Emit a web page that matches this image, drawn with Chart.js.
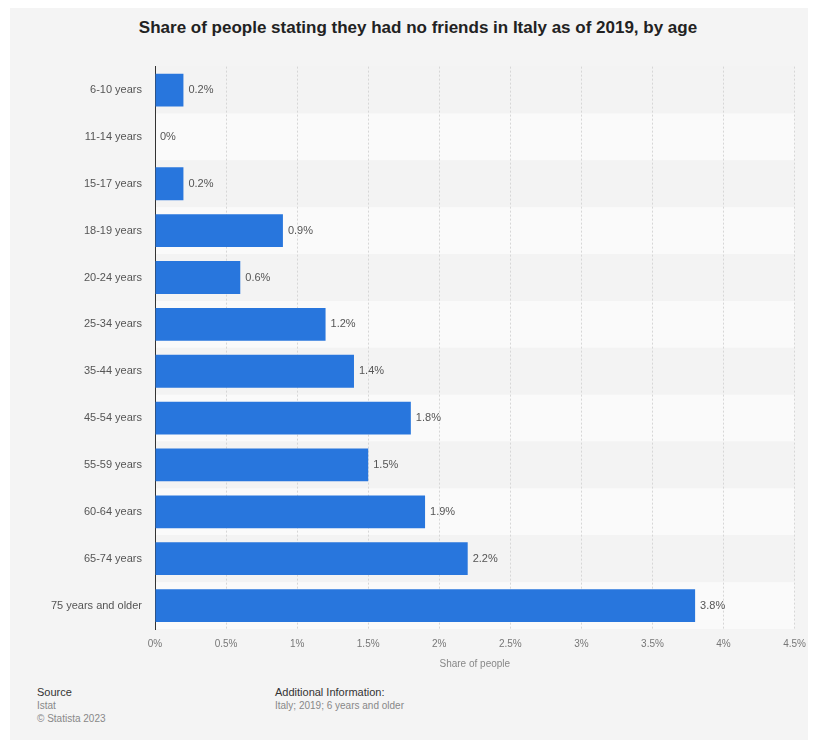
<!DOCTYPE html>
<html>
<head>
<meta charset="utf-8">
<script src="https://cdn.jsdelivr.net/npm/chart.js@4.4.0/dist/chart.umd.min.js"></script>
<style>
  body { margin: 0; background: #fff; font-family: "Liberation Sans", Arial, sans-serif; }
  #card { position: absolute; left: 10px; top: 8px; width: 798px; height: 732px; background: #f4f4f4; }
  #title { position: absolute; left: 9px; top: 10px; width: 798px; text-align: center; font-size: 17px; font-weight: bold; color: #222; }
  #wrap { position: absolute; left: 0; top: 47px; width: 798px; height: 625px; }
  .foot { position: absolute; font-size: 10px; color: #888; line-height: 13px; }
  .foot b { color: #333; font-weight: normal; font-size: 11px; }
</style>
</head>
<body>
<div id="card">
  <div id="title">Share of people stating they had no friends in Italy as of 2019, by age</div>
  <div id="wrap"><canvas id="barChart"></canvas></div>
  <div class="foot" style="left:27px; top:678px;"><b>Source</b><br>Istat<br>© Statista 2023</div>
  <div class="foot" style="left:265px; top:678px;"><b>Additional Information:</b><br>Italy; 2019; 6 years and older</div>
</div>
<script>
// Age groups and share of people (%)
const ageGroups = ['6-10 years', '11-14 years', '15-17 years', '18-19 years', '20-24 years', '25-34 years',
    '35-44 years', '45-54 years', '55-59 years', '60-64 years', '65-74 years', '75 years and older'];
const shareValues = [0.2, 0, 0.2, 0.9, 0.6, 1.2, 1.4, 1.8, 1.5, 1.9, 2.2, 3.8];

// Alternating row background bands
const rowBands = {
    id: 'rowBands',
    beforeDraw(chart) {
        const { ctx, chartArea, scales } = chart;
        const y = scales.y;
        const step = y.getPixelForValue(1) - y.getPixelForValue(0);
        ctx.save();
        ageGroups.forEach((g, i) => {
            const c = y.getPixelForValue(i);
            ctx.fillStyle = i % 2 === 0 ? '#f3f3f3' : '#fafafa';
            ctx.fillRect(chartArea.left, c - step / 2, chartArea.right - chartArea.left, step);
        });
        ctx.restore();
    }
};

// Value labels at bar ends
const valueLabels = {
    id: 'valueLabels',
    afterDatasetsDraw(chart) {
        const { ctx } = chart;
        const meta = chart.getDatasetMeta(0);
        ctx.save();
        ctx.font = '11px "Liberation Sans", Arial, sans-serif';
        ctx.fillStyle = '#555';
        ctx.textBaseline = 'middle';
        meta.data.forEach((bar, i) => {
            ctx.fillText(shareValues[i] + '%', bar.x + 5, bar.y);
        });
        ctx.restore();
    }
};

const ctxBar = document.getElementById('barChart').getContext('2d');
new Chart(ctxBar, {
    type: 'bar',
    data: {
        labels: ageGroups,
        datasets: [{
            data: shareValues,
            backgroundColor: '#2876dd',
            borderWidth: 0,
            categoryPercentage: 1,
            barPercentage: 0.7
        }]
    },
    options: {
        indexAxis: 'y',
        responsive: true,
        maintainAspectRatio: false,
        animation: false,
        layout: { padding: { top: 5, right: 6, bottom: 10, left: 0 } },
        plugins: { legend: { display: false }, tooltip: { enabled: false } },
        scales: {
            x: {
                min: 0,
                max: 4.5,
                ticks: {
                    stepSize: 0.5,
                    color: '#777',
                    font: { size: 10, family: '"Liberation Sans", Arial, sans-serif' },
                    padding: 2,
                    callback: v => v + '%'
                },
                grid: { color: '#d6d6d6', drawTicks: true, tickLength: 7, tickColor: 'rgba(0,0,0,0)' },
                border: { display: false, dash: [2, 2] },
                title: {
                    display: true,
                    text: 'Share of people',
                    color: '#888',
                    font: { size: 10, family: '"Liberation Sans", Arial, sans-serif' },
                    padding: { top: 6, bottom: 0 }
                }
            },
            y: {
                grid: { display: false },
                border: { display: true, color: '#333', width: 1 },
                ticks: {
                    color: '#555',
                    font: { size: 11, family: '"Liberation Sans", Arial, sans-serif' },
                    padding: 5
                },
                afterFit(scale) { scale.width = 145; }
            }
        }
    },
    plugins: [rowBands, valueLabels]
});
</script>
</body>
</html>
